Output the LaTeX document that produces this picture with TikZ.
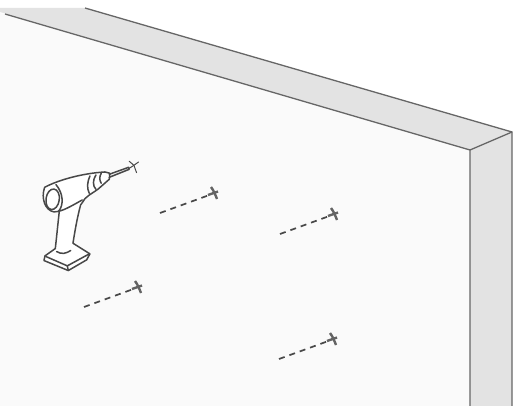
\documentclass[tikz,border=0pt]{standalone}
\definecolor{facegray}{HTML}{E3E3E3}
\definecolor{wallwhite}{HTML}{FAFAFA}
\definecolor{edgegray}{HTML}{666666}
\definecolor{drillink}{HTML}{484848}
\tikzset{
  wallface/.style={fill=facegray,draw=none},
  walledge/.style={draw=edgegray,line width=1.3pt},
  holeline/.style={draw=drillink,line width=1.7pt,dash pattern=on 6pt off 5pt},
  holemark/.style={draw=drillink!85,line width=2.4pt},
  drillline/.style={draw=drillink,line width=1.5pt,line join=round,line cap=round}
}
\begin{document}
\begin{tikzpicture}[x=1pt,y=-1pt]
\useasboundingbox (0,0) rectangle (513,406);
\fill[white] (0,0) rectangle (513,406);
% wall
\fill[wallwhite] (0,13) -- (470,150) -- (470,406) -- (0,406) -- cycle;
\fill[wallface] (0,8) -- (85,8) -- (512,132) -- (470,150) -- (0,12) -- cycle;
\fill[wallface] (470,150) -- (512,132) -- (512,406) -- (470,406) -- cycle;
\draw[walledge] (5,14) -- (470,150) -- (470,406);
\draw[walledge] (85,8) -- (512,132) -- (512,406);
\draw[walledge] (470,150) -- (512,132);
% holes
\foreach \hx/\hy in {160/213,280/234,84/307,279/359}{
  \draw[holeline] (\hx,\hy) -- ++(48,-17.5);
  \draw[holemark] (\hx+48,\hy-18) -- ++(10,-3.5);
  \draw[holemark] (\hx+51,\hy-26) .. controls (\hx+54,\hy-22) and (\hx+55,\hy-19) .. (\hx+57,\hy-14);
}
% drill
\begin{scope}[shift={(30,140)},x=0.333pt,y=-0.333pt]
\draw[drillline,fill=white] (44,142) .. controls (90,118) and (160,100) .. (225,96)
  -- (240,100) -- (238,118) -- (205,147) .. controls (185,162) and (165,170) .. (157,188)
  -- (152,195) .. controls (140,240) and (134,280) .. (129,310)
  -- (180,342) -- (170,360) -- (115,392) -- (42,362) -- (45,348) -- (76,326)
  .. controls (80,290) and (84,250) .. (88,214) -- (72,216)
  .. controls (46,212) and (32,175) .. (44,142) -- cycle;
\draw[drillline] (68,178) ellipse [x radius=20,y radius=31,rotate=-8];
\draw[drillline] (78,134) .. controls (100,160) and (102,195) .. (86,214);
\draw[drillline] (86,214) .. controls (105,210) and (130,195) .. (157,180);
\draw[drillline] (48,350) -- (112,378) -- (178,342);
\draw[drillline] (112,378) -- (115,392);
\draw[drillline] (80,335) .. controls (95,345) and (110,340) .. (122,332);
\draw[drillline] (180,108) .. controls (172,125) and (170,145) .. (178,160);
\draw[drillline] (198,105) .. controls (188,120) and (188,138) .. (198,148);
\draw[drillline] (214,100) .. controls (208,110) and (208,120) .. (214,130);
\draw[drillline] (238,103) -- (296,82) -- (298,88) -- (238,112);
% bit tip mark
\draw[drillline,line width=1pt] (298,64) -- (312,76) -- (326,66);
\draw[drillline,line width=1pt] (312,76) -- (320,98);
\draw[drillline,line width=1pt] (298,85) -- (312,76);
\end{scope}
\end{tikzpicture}
\end{document}
